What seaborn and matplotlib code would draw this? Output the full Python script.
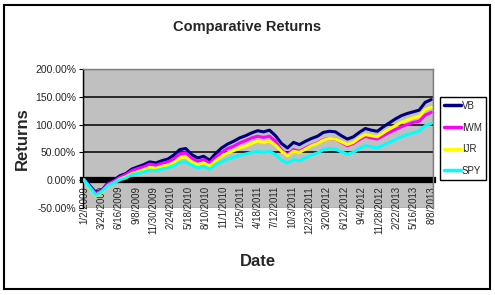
import numpy as np
import pandas as pd
import matplotlib
matplotlib.use("Agg")
import matplotlib.pyplot as plt
from matplotlib.patches import Rectangle
import seaborn as sns

# ---- data (returns in %) ----
series_names = ["VB", "IWM", "IJR", "SPY"]
vb = [2, -10, -22, -18, -5, 0, 8, 12, 20, 24, 28, 33, 31, 35, 38, 45, 55, 57, 46, 40,
      43, 36, 48, 58, 65, 70, 76, 80, 85, 89, 87, 90, 80, 66, 58, 68, 64, 70, 75, 79,
      86, 88, 87, 80, 74, 78, 86, 93, 90, 88, 96, 103, 110, 116, 120, 123, 126, 140, 145]
iwm = [1, -12, -24, -19, -7, -2, 5, 10, 17, 21, 24, 29, 27, 30, 33, 38, 47, 49, 39, 34,
       37, 31, 41, 50, 57, 61, 67, 71, 76, 79, 77, 79, 70, 54, 46, 55, 52, 58, 63, 67,
       73, 75, 74, 68, 62, 66, 73, 79, 76, 74, 80, 86, 91, 96, 100, 104, 106, 117, 122]
ijr = [0, -14, -28, -22, -10, -5, 2, 6, 12, 15, 19, 23, 21, 25, 27, 31, 40, 42, 33, 28,
       31, 26, 35, 43, 49, 53, 58, 61, 66, 70, 68, 70, 63, 52, 44, 52, 50, 56, 62, 66,
       72, 75, 74, 69, 64, 68, 76, 82, 80, 78, 85, 92, 98, 104, 108, 112, 115, 127, 131]
spy = [1, -13, -27, -20, -10, -5, 1, 4, 10, 12, 15, 18, 17, 20, 22, 26, 32, 33, 27, 22,
       25, 20, 28, 33, 38, 41, 45, 47, 50, 52, 50, 52, 46, 36, 31, 37, 35, 40, 45, 49,
       55, 57, 56, 51, 47, 50, 57, 62, 60, 58, 63, 68, 73, 78, 82, 85, 88, 98, 102]
date_labels = ["1/2/2009", "3/24/2009", "6/16/2009", "9/8/2009", "11/30/2009",
               "2/24/2010", "5/18/2010", "8/10/2010", "11/1/2010", "1/25/2011",
               "4/18/2011", "7/12/2011", "10/3/2011", "12/23/2011", "3/20/2012",
               "6/12/2012", "9/4/2012", "11/28/2012", "2/22/2013", "5/16/2013",
               "8/8/2013"]
ytick_values = [-50, 0, 50, 100, 150, 200]
ytick_labels = ["-50.00%", "0.00%", "50.00%", "100.00%", "150.00%", "200.00%"]
colors = ["#000080", "#FF00FF", "#FFFF00", "#00FFFF"]

# trading-day index of each sampled point and of each date label
n_days = 1146
day = np.linspace(0, 1140, len(vb))
label_days = np.arange(len(date_labels)) * 57

df = pd.DataFrame({
    "Day": np.tile(day, 4),
    "Return": vb + iwm + ijr + spy,
    "Series": np.repeat(series_names, len(vb)),
})

sns.set_theme(style="white")
plt.rcParams["font.family"] = ["Liberation Sans", "DejaVu Sans"]

W, H = 495, 295
fig = plt.figure(figsize=(W / 100, H / 100), dpi=100)
fig.patch.set_facecolor("white")
ax = fig.add_axes([83 / W, 1 - 208 / H, 350 / W, 139 / H])
ax.set_facecolor("#C0C0C0")

# gridlines
for v in [50, 100, 150]:
    ax.axhline(v, color="black", lw=1.1, zorder=1)

sns.lineplot(data=df, x="Day", y="Return", hue="Series", hue_order=series_names,
             palette=colors, lw=2.2, ax=ax, zorder=3, legend=True)

ax.set_xlim(-3, n_days)
ax.set_ylim(-50, 200)

# spines: left black, x axis at zero (thick), rest grey frame
for s in ["top", "right"]:
    ax.spines[s].set_color("#808080")
    ax.spines[s].set_linewidth(1.0)
ax.spines["left"].set_color("black")
ax.spines["left"].set_linewidth(1.0)
ax.spines["bottom"].set_position(("data", 0))
ax.spines["bottom"].set_color("black")
ax.spines["bottom"].set_linewidth(4.5)
ax.spines["bottom"].set_zorder(2)
ax.add_patch(Rectangle((0, 0), 1, 1, transform=ax.transAxes, fill=False,
                       ec="#808080", lw=1.0, zorder=0.5))

ax.set_yticks(ytick_values)
ax.set_yticklabels(ytick_labels, fontsize=7.5)
ax.tick_params(axis="y", direction="out", length=3, width=0.8, color="black", pad=2, left=True)
ax.set_xticks(label_days)
ax.set_xticklabels(date_labels, rotation=90, fontsize=7.0, va="top")
ax.tick_params(axis="x", length=0, pad=4, bottom=True)

ax.set_xlabel("")
ax.set_ylabel("")

handles, labels = ax.get_legend_handles_labels()
ax.legend(handles, labels, loc="upper left",
          bbox_to_anchor=(440 / W, 1 - 97 / H), bbox_transform=fig.transFigure,
          frameon=True, fancybox=False, edgecolor="black", framealpha=1,
          fontsize=7.0, handlelength=1.8, handletextpad=0.05, labelspacing=1.2,
          borderpad=0.4, borderaxespad=0)
leg = ax.get_legend()
leg.get_frame().set_linewidth(1.0)
for line in leg.get_lines():
    line.set_linewidth(2.5)

fig.text(247 / W, 1 - 27 / H, "Comparative Returns", ha="center", va="center",
         fontsize=10.5, fontweight="bold")
fig.text(22 / W, 1 - 139 / H, "Returns", ha="center", va="center", rotation=90,
         fontsize=12, fontweight="bold")
fig.text(258 / W, 1 - 262 / H, "Date", ha="center", va="center",
         fontsize=12, fontweight="bold")

fig.patches.append(Rectangle((4 / W, 1 - 289 / H), 486 / W, 284 / H,
                             transform=fig.transFigure, fill=False, ec="black", lw=1.5))

fig.savefig("out.png", dpi=100)
